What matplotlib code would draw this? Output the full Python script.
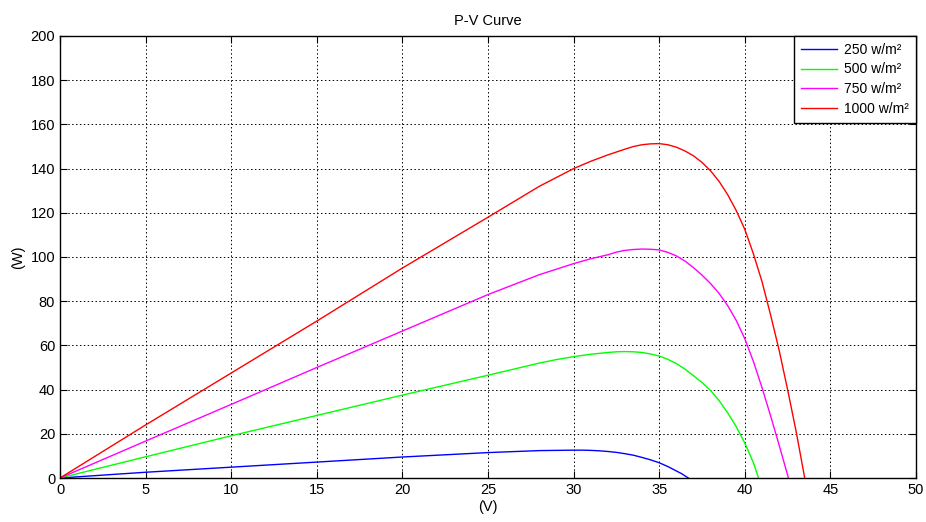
import matplotlib
matplotlib.use("Agg")
import matplotlib.pyplot as plt

plt.rcParams['font.family'] = ['Liberation Sans', 'DejaVu Sans']

labels = ["250 w/m²", "500 w/m²", "750 w/m²", "1000 w/m²"]
colors = ["#0000ff", "#00ff00", "#ff00ff", "#ff0000"]

v_250 = [0, 5, 10, 15, 20, 25, 28, 29, 30, 30.5, 31, 31.5, 32, 32.5, 33, 33.5, 34, 34.5, 35, 35.5, 36, 36.3, 36.7]
p_250 = [0, 2.6, 4.9, 7.2, 9.5, 11.5, 12.4, 12.5, 12.6, 12.6, 12.5, 12.3, 12.0, 11.6, 11.0, 10.3, 9.3, 8.2, 6.9, 5.2, 3.2, 2.0, 0]

v_500 = [0, 5, 10, 15, 20, 25, 28, 29, 30, 31, 32, 32.5, 33, 33.5, 34, 34.5, 35, 35.5, 36, 36.5, 37, 37.5, 38, 38.5, 39, 39.5, 40, 40.5, 40.8]
p_500 = [0, 9.6, 19.1, 28.3, 37.5, 46.5, 52, 53.6, 54.9, 56, 56.8, 57.1, 57.2, 57.1, 56.8, 56.1, 55.2, 53.7, 51.8, 49.3, 46.3, 43.2, 39.6, 35.0, 29.5, 23.2, 15.8, 7.0, 0]

v_750 = [0, 5, 10, 15, 20, 25, 28, 30, 31, 32, 32.5, 33, 33.5, 34, 34.5, 35, 35.5, 36, 36.5, 37, 37.5, 38, 38.5, 39, 39.5, 40, 40.5, 41, 41.5, 42, 42.55]
p_750 = [0, 16.7, 33.3, 50, 66.5, 83, 92, 97, 99.2, 101, 102.2, 103, 103.4, 103.6, 103.5, 103.2, 102.1, 100.5, 98.2, 95.2, 91.8, 88.0, 83.5, 78.0, 71.3, 63.0, 52.8, 41.0, 28.3, 15.0, 0]

v_1000 = [0, 5, 10, 15, 20, 25, 28, 30, 31, 32, 33, 33.5, 34, 34.5, 35, 35.5, 36, 36.5, 37, 37.5, 38, 38.5, 39, 39.5, 40, 40.5, 41, 41.5, 42, 42.5, 43, 43.5]
p_1000 = [0, 24, 47.5, 71, 95, 118, 132, 140, 143.3, 146.2, 148.8, 150, 150.8, 151.2, 151.3, 150.8, 149.7, 148.0, 145.8, 142.8, 139, 134.2, 128.2, 121, 112.5, 101.5, 89, 74, 58, 40, 21, 0]

series = [(v_250, p_250), (v_500, p_500), (v_750, p_750), (v_1000, p_1000)]

fig = plt.figure(figsize=(9.26, 5.22), dpi=100)
ax = fig.add_axes([60/926, 1-478/522, (916-60)/926, (478-36)/522])

for (v, p), c, lab in zip(series, colors, labels):
    ax.plot(v, p, color=c, linewidth=1.0, label=lab)

ax.set_xlim(0, 50)
ax.set_ylim(0, 200)
ax.set_xticks(range(0, 51, 5))
ax.set_yticks(range(0, 201, 20))
ax.grid(True, color='black', linestyle=(0, (1.5, 2.5)), linewidth=0.7)
ax.tick_params(direction='in', top=True, right=True, length=5, labelsize=10.5, colors='black')
for s in ax.spines.values():
    s.set_linewidth(1.0)
    s.set_color('black')

ax.set_title("P-V Curve", fontsize=10.5, pad=8)
ax.set_xlabel("(V)", fontsize=10.5, labelpad=2)
ax.set_ylabel("(W)", fontsize=10.5, labelpad=4)

leg = ax.legend(loc='upper right', fontsize=10, frameon=True, fancybox=False,
                edgecolor='black', framealpha=1, borderaxespad=0.0,
                handlelength=2.6, handletextpad=0.5, labelspacing=0.4, borderpad=0.5)
leg.get_frame().set_linewidth(1.0)

fig.savefig("out.png", dpi=100)
